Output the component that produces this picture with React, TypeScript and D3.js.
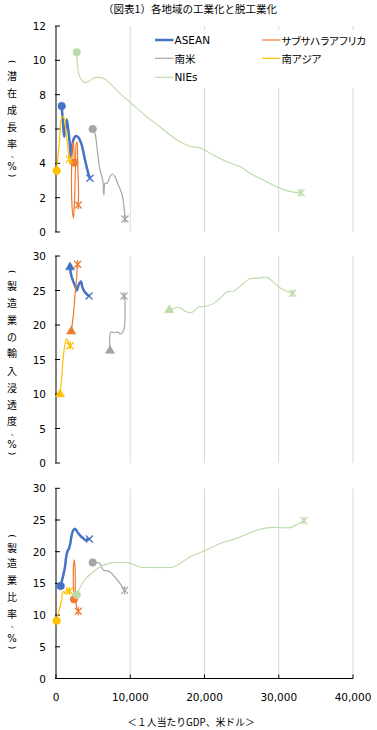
import React from "react";
import * as d3 from "d3";

type Pt = [number, number];

// ---- categories / labels ----
const chartTitle = "（図表1）各地域の工業化と脱工業化";
const xAxisTitle = "＜１人当たりGDP、米ドル＞";
const seriesNames = ["ASEAN", "サブサハラアフリカ", "南米", "南アジア", "NIEs"];
const xTicks = [0, 10000, 20000, 30000, 40000];
const growthTicks = [0, 2, 4, 6, 8, 10, 12];
const importTicks = [0, 5, 10, 15, 20, 25, 30];
const shareTicks = [0, 5, 10, 15, 20, 25, 30];
const growthTitleChars = ["(", "潜", "在", "成", "長", "率", "、", "%", ")"];
const importTitleChars = ["(", "製", "造", "業", "の", "輸", "入", "浸", "透", "度", "、", "%", ")"];
const shareTitleChars = ["(", "製", "造", "業", "比", "率", "、", "%", ")"];

// ---- panel 1: potential growth rate (GDP per capita, %) ----
const growthASEAN: Pt[] = [[770, 7.34], [980, 6.13], [1120, 5.55], [1440, 6.56], [1660, 5.94], [1890, 4.97], [2020, 4.39], [2330, 5.36], [2690, 5.59], [3000, 5.52], [3460, 5.07], [3910, 4.19], [4350, 3.42], [4580, 3.13]];
const growthSSA: Pt[] = [[2460, 4.04], [2360, 5.07], [2260, 5.24], [2130, 4.19], [2090, 2.45], [2220, 1.16], [2360, 0.82], [2490, 1.86], [2630, 3.9], [2730, 5.18], [2830, 5.24], [2930, 3.9], [3040, 2.2], [3000, 1.57]];
const growthSouthAmerica: Pt[] = [[4940, 6.0], [5250, 5.75], [5610, 4.58], [5930, 3.61], [6290, 3.03], [6420, 2.25], [6460, 2.15], [6600, 2.84], [6900, 2.84], [7270, 3.22], [7580, 3.38], [7950, 3.22], [8390, 2.74], [8850, 2.25], [9160, 1.47], [9290, 0.76]];
const growthSouthAsia: Pt[] = [[90, 3.57], [400, 4.97], [540, 5.75], [670, 6.52], [850, 6.72], [1120, 6.62], [1300, 5.94], [1530, 5.16], [1700, 4.45], [1790, 4.23]];
const growthNIEs: Pt[] = [[2790, 10.47], [2870, 9.82], [3100, 9.14], [3460, 8.85], [3900, 8.7], [4350, 8.75], [5020, 8.95], [5700, 9.01], [6370, 8.95], [7270, 8.66], [8620, 8.08], [10400, 7.4], [12200, 6.72], [14000, 6.13], [15350, 5.65], [16700, 5.26], [18050, 5.0], [19600, 4.87], [21200, 4.48], [23000, 4.09], [25000, 3.77], [26100, 3.42], [27900, 3.03], [29700, 2.64], [31100, 2.41], [32200, 2.31], [33000, 2.29]];

// ---- panel 2: import penetration of manufacturing (%) ----
const importASEAN: Pt[] = [[1890, 28.3], [2050, 27.2], [2300, 26.4], [2600, 25.6], [2790, 25.0], [3050, 25.8], [3350, 26.3], [3550, 25.5], [3800, 24.9], [4100, 24.5], [4450, 24.2]];
const importSSA: Pt[] = [[2050, 19.0], [2330, 21.4], [2560, 24.3], [2790, 26.8], [2870, 28.7], [2920, 28.8]];
const importSouthAmerica: Pt[] = [[7270, 16.2], [7310, 18.8], [7500, 19.0], [7950, 18.9], [8310, 19.0], [8620, 18.7], [8930, 18.9], [9200, 19.6], [9290, 21.7], [9280, 23.6], [9160, 24.2]];
const importSouthAsia: Pt[] = [[540, 9.9], [770, 12.4], [980, 15.3], [1210, 17.2], [1440, 18.0], [1660, 17.6], [1890, 17.0]];
const importNIEs: Pt[] = [[15260, 22.1], [15800, 22.4], [16700, 22.5], [17370, 22.0], [18280, 21.8], [19160, 22.6], [20070, 22.7], [21190, 23.1], [22320, 24.1], [22990, 24.8], [23880, 24.9], [24780, 25.6], [26130, 26.7], [27250, 26.8], [28460, 26.9], [29270, 26.2], [30170, 25.4], [31070, 24.9], [31880, 24.6]];

// ---- panel 3: manufacturing share (%) ----
const shareASEAN: Pt[] = [[630, 14.6], [770, 15.3], [980, 16.3], [1210, 17.6], [1350, 19.0], [1520, 20.0], [1750, 20.5], [1930, 21.3], [2110, 22.6], [2330, 23.4], [2560, 23.6], [2790, 23.3], [3000, 22.9], [3370, 22.4], [3680, 22.1], [4000, 21.8], [4270, 22.0], [4490, 22.0]];
const shareSSA: Pt[] = [[2420, 12.5], [2330, 15.5], [2360, 17.9], [2450, 18.7], [2560, 17.7], [2600, 14.8], [2640, 12.4], [2790, 11.3], [3000, 10.6]];
const shareSouthAmerica: Pt[] = [[4940, 18.3], [5480, 18.3], [5930, 18.1], [6370, 17.1], [6830, 17.0], [7270, 16.8], [7950, 16.0], [8620, 15.0], [9250, 13.9]];
const shareSouthAsia: Pt[] = [[90, 9.1], [310, 10.3], [540, 11.3], [770, 12.4], [850, 13.4], [1080, 13.7], [1210, 13.4], [1440, 14.0], [1660, 13.7], [1790, 13.8]];
const shareNIEs: Pt[] = [[2790, 13.2], [3230, 14.3], [3680, 15.3], [4580, 16.4], [5930, 17.6], [7270, 18.2], [8620, 18.3], [9970, 18.2], [11310, 17.6], [13100, 17.5], [14450, 17.5], [15800, 17.6], [17140, 18.5], [18050, 19.2], [19970, 20.1], [22090, 21.3], [24340, 22.1], [26570, 23.2], [28590, 23.8], [30170, 23.8], [31520, 23.8], [32420, 24.3], [33400, 24.9]];

// ---- styles ----
const COLORS = ["#4472C4", "#ED7D31", "#A5A5A5", "#FFC000", "#BCDBA8"];
const WIDTHS = [2.5, 1.2, 1.2, 1.2, 1.1];
const FONT_NUM = "'DejaVu Sans', Verdana, sans-serif";
const FONT_JP = "'Noto Sans CJK JP', 'Noto Sans', sans-serif";

const X0 = 56;
const X1 = 353;
const x = d3.scaleLinear().domain([0, 40000]).range([X0, X1]);

type Panel = {
  key: string;
  domain: [number, number];
  range: [number, number];
  ticks: number[];
  data: Pt[][];
  start: "circle" | "triangle";
  titleChars: string[];
  titleY: number[];
  xAxis: boolean;
};

const panels: Panel[] = [
  {
    key: "growth", domain: [0, 12], range: [232, 26], ticks: growthTicks,
    data: [growthASEAN, growthSSA, growthSouthAmerica, growthSouthAsia, growthNIEs],
    start: "circle", titleChars: growthTitleChars,
    titleY: [61.7, 75, 92, 109, 126, 143, 154, 166.5, 175.5], xAxis: false,
  },
  {
    key: "import", domain: [0, 30], range: [463, 256], ticks: importTicks,
    data: [importASEAN, importSSA, importSouthAmerica, importSouthAsia, importNIEs],
    start: "triangle", titleChars: importTitleChars,
    titleY: [271.7, 285.7, 302, 319, 336, 352.5, 370, 387, 404, 420.5, 432, 444, 453.5], xAxis: false,
  },
  {
    key: "share", domain: [0, 30], range: [678.5, 488.3], ticks: shareTicks,
    data: [shareASEAN, shareSSA, shareSouthAmerica, shareSouthAsia, shareNIEs],
    start: "circle", titleChars: shareTitleChars,
    titleY: [536, 547, 562.5, 579.5, 596.7, 613.3, 624, 638, 647.5], xAxis: true,
  },
];

function EndMarker({ cx, cy, color, star }: { cx: number; cy: number; color: string; star: boolean }) {
  const s = 3.5;
  let d = `M${cx - s},${cy - s}L${cx + s},${cy + s}M${cx - s},${cy + s}L${cx + s},${cy - s}`;
  if (star) d += `M${cx},${cy - s - 0.6}L${cx},${cy + s + 0.6}`;
  return <path d={d} stroke={color} strokeWidth={1.3} fill="none" />;
}

function TitleChar({ ch, y }: { ch: string; y: number }) {
  if (ch === "(" || ch === ")") {
    return (
      <text
        x={12}
        y={y}
        fontFamily={FONT_NUM}
        fontSize={9}
        textAnchor="middle"
        dominantBaseline="central"
        fill="#000"
        transform={`rotate(90, 12, ${y})`}
      >
        {ch}
      </text>
    );
  }
  if (ch === "、") {
    return (
      <text x={14.5} y={y - 1} fontFamily={FONT_JP} fontSize={7.5} textAnchor="middle" dominantBaseline="central" fill="#000">
        {ch}
      </text>
    );
  }
  if (ch === "%") {
    return (
      <text x={12} y={y} fontFamily={FONT_NUM} fontSize={10} textAnchor="middle" dominantBaseline="central" fill="#000">
        {ch}
      </text>
    );
  }
  return (
    <text x={12} y={y} fontFamily={FONT_JP} fontSize={10} textAnchor="middle" dominantBaseline="central" fill="#000">
      {ch}
    </text>
  );
}

function PanelView({ p }: { p: Panel }) {
  const y = d3.scaleLinear().domain(p.domain).range(p.range);
  const line = d3
    .line<Pt>()
    .x((d) => x(d[0]))
    .y((d) => y(d[1]))
    .curve(d3.curveCatmullRom.alpha(0.5));
  const top = p.range[1];
  const bottom = p.range[0];
  const tri = d3.symbol().type(d3.symbolTriangle).size(36)();
  return (
    <g>
      {xTicks.filter((t) => t > 0).map((t) => (
        <line key={t} x1={x(t)} x2={x(t)} y1={top} y2={bottom} stroke="#D9D9D9" strokeWidth={1} />
      ))}
      <line x1={X0} x2={X0} y1={top} y2={bottom} stroke="#000" strokeWidth={1} />
      {p.ticks.map((t) => (
        <g key={t}>
          <line x1={X0 - 1} x2={X0 + 4} y1={y(t)} y2={y(t)} stroke="#000" strokeWidth={1} />
          <text x={46} y={y(t)} fontFamily={FONT_NUM} fontSize={10.5} textAnchor="end" dominantBaseline="central" fill="#000">
            {t}
          </text>
        </g>
      ))}
      {p.xAxis && (
        <g>
          <line x1={X0} x2={X1} y1={bottom} y2={bottom} stroke="#000" strokeWidth={1} />
          {xTicks.map((t) => (
            <g key={t}>
              <line x1={x(t)} x2={x(t)} y1={bottom} y2={bottom - 4} stroke="#000" strokeWidth={1} />
              <text x={x(t)} y={bottom + 18} fontFamily={FONT_NUM} fontSize={10.5} textAnchor="middle" dominantBaseline="central" fill="#000">
                {d3.format(",")(t)}
              </text>
            </g>
          ))}
        </g>
      )}
      {p.titleChars.map((ch, i) => (
        <TitleChar key={i} ch={ch} y={p.titleY[i]} />
      ))}
      {p.data.map((series, i) => {
        const first = series[0];
        const last = series[series.length - 1];
        const fx = x(first[0]);
        const fy = y(first[1]);
        return (
          <g key={i}>
            <path d={line(series) || ""} fill="none" stroke={COLORS[i]} strokeWidth={WIDTHS[i]} strokeLinejoin="round" strokeLinecap="round" />
            {p.start === "circle" ? (
              <circle cx={fx} cy={fy} r={3.8} fill={COLORS[i]} stroke={COLORS[i]} strokeWidth={0.6} />
            ) : (
              <path d={tri || ""} transform={`translate(${fx},${fy - 0.5})`} fill={COLORS[i]} stroke={COLORS[i]} strokeWidth={0.6} />
            )}
            <EndMarker cx={x(last[0])} cy={y(last[1])} color={COLORS[i]} star={i !== 0} />
          </g>
        );
      })}
    </g>
  );
}

function Legend() {
  const items = [
    { i: 0, lx: 155, ly: 40 },
    { i: 1, lx: 262, ly: 40 },
    { i: 2, lx: 155, ly: 58.3 },
    { i: 3, lx: 262, ly: 58.3 },
    { i: 4, lx: 155, ly: 77.3 },
  ];
  return (
    <g>
      <rect x={150} y={30} width={222} height={58} fill="#fff" />
      {items.map(({ i, lx, ly }) => (
        <g key={i}>
          <line x1={lx} x2={lx + 18.5} y1={ly} y2={ly} stroke={COLORS[i]} strokeWidth={WIDTHS[i]} />
          <text
            x={lx + 19.5}
            y={ly}
            fontFamily={i === 0 || i === 4 ? FONT_NUM : FONT_JP}
            fontSize={10.5}
            dominantBaseline="central"
            fill="#000"
            style={{ fontFeatureSettings: '"palt"' }}
          >
            {seriesNames[i]}
          </text>
        </g>
      ))}
    </g>
  );
}

export default function App() {
  return (
    <svg width={377} height={730} style={{ display: "block", position: "absolute", left: 0, top: 0, background: "#fff" }}>
      <rect x={0} y={0} width={377} height={730} fill="#fff" />
      <text x={190} y={8} fontFamily={FONT_JP} fontSize={10.5} textAnchor="middle" dominantBaseline="central" fill="#000">
        {chartTitle}
      </text>
      {panels.map((p) => (
        <PanelView key={p.key} p={p} />
      ))}
      <Legend />
      <text x={191} y={721.5} fontFamily={FONT_JP} fontSize={9.8} textAnchor="middle" dominantBaseline="central" fill="#000">
        {xAxisTitle}
      </text>
    </svg>
  );
}
